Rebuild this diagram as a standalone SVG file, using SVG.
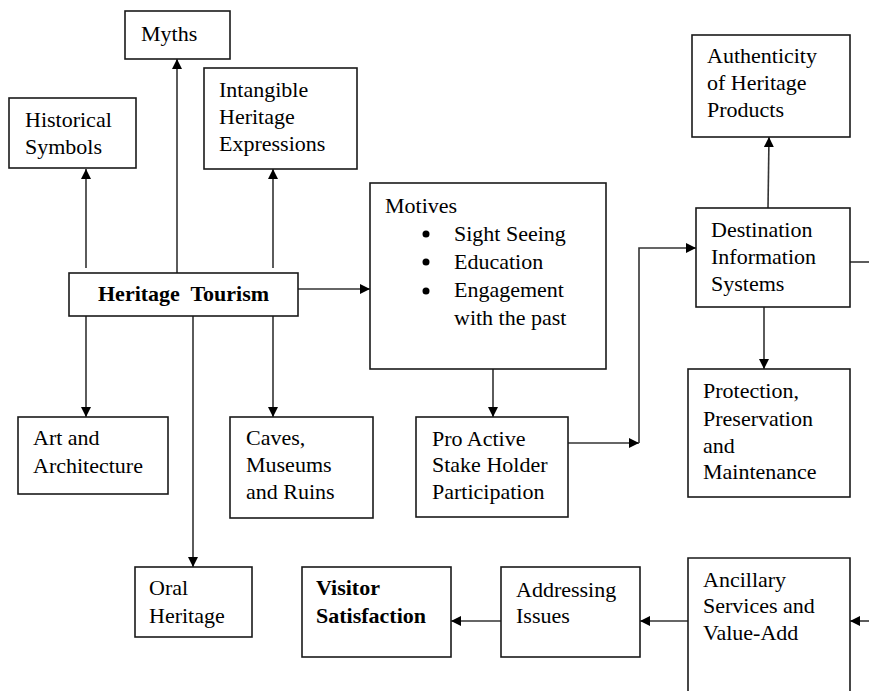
<svg xmlns="http://www.w3.org/2000/svg" width="869" height="691" viewBox="0 0 869 691" font-family="'Liberation Serif', serif">
<style>
.box{fill:#fff;stroke:#1a1a1a;stroke-width:1.6}
text{font-family:'Liberation Serif','DejaVu Serif',serif;font-size:22px;fill:#000}
.b{font-weight:bold}
.c{fill:none;stroke:#333;stroke-width:1.6}
</style>
<defs>
<marker id="ah" viewBox="0 0 10 10" refX="10" refY="5" markerWidth="10" markerHeight="10" markerUnits="userSpaceOnUse" orient="auto">
<path d="M0,0 L10,5 L0,10 Z" fill="#000"/>
</marker>
</defs>
<g id="connectors">
<line class="c" x1="86" y1="268" x2="86" y2="169" marker-end="url(#ah)"/>
<line class="c" x1="177" y1="273" x2="177" y2="59" marker-end="url(#ah)"/>
<line class="c" x1="273" y1="268" x2="273" y2="169" marker-end="url(#ah)"/>
<line class="c" x1="298" y1="289" x2="370" y2="289" marker-end="url(#ah)"/>
<line class="c" x1="86" y1="316" x2="86" y2="417" marker-end="url(#ah)"/>
<line class="c" x1="193" y1="316" x2="193" y2="567" marker-end="url(#ah)"/>
<line class="c" x1="273" y1="316" x2="273" y2="417" marker-end="url(#ah)"/>
<line class="c" x1="493" y1="369" x2="493" y2="417" marker-end="url(#ah)"/>
<line class="c" x1="568" y1="443" x2="639" y2="443" marker-end="url(#ah)"/>
<polyline class="c" points="639,443 639,248 696,248" marker-end="url(#ah)"/>
<line class="c" x1="768" y1="208" x2="769" y2="137" marker-end="url(#ah)"/>
<line class="c" x1="764" y1="307" x2="764" y2="369" marker-end="url(#ah)"/>
<line class="c" x1="850" y1="262" x2="869" y2="262"/>
<line class="c" x1="869" y1="621" x2="850" y2="621" marker-end="url(#ah)"/>
<line class="c" x1="688" y1="621" x2="640" y2="621" marker-end="url(#ah)"/>
<line class="c" x1="501" y1="621" x2="451" y2="621" marker-end="url(#ah)"/>
</g>
<g id="myths"><rect class="box" x="125" y="11" width="105" height="48"/><text x="141" y="41">Myths</text></g>
<g id="historical"><rect class="box" x="9" y="98" width="127" height="70"/><text x="25" y="127">Historical</text><text x="25" y="154">Symbols</text></g>
<g id="intangible"><rect class="box" x="204" y="68" width="153" height="101"/><text x="219" y="97">Intangible</text><text x="219" y="124">Heritage</text><text x="219" y="151">Expressions</text></g>
<g id="heritage-tourism"><rect class="box" x="69" y="273" width="229" height="43"/><text class="b" x="98" y="301" xml:space="preserve">Heritage  Tourism</text></g>
<g id="motives"><rect class="box" x="370" y="183" width="236" height="186"/>
<text x="385" y="213">Motives</text>
<circle cx="426" cy="234" r="3.5" fill="#000"/><text x="454" y="241">Sight Seeing</text>
<circle cx="426" cy="262" r="3.5" fill="#000"/><text x="454" y="269">Education</text>
<circle cx="426" cy="291" r="3.5" fill="#000"/><text x="454" y="297">Engagement</text>
<text x="454" y="325">with the past</text></g>
<g id="art"><rect class="box" x="18" y="417" width="150" height="77"/><text x="33" y="445">Art and</text><text x="33" y="473">Architecture</text></g>
<g id="caves"><rect class="box" x="230" y="417" width="143" height="101"/><text x="246" y="445">Caves,</text><text x="246" y="472">Museums</text><text x="246" y="499">and Ruins</text></g>
<g id="proactive"><rect class="box" x="416" y="417" width="152" height="100"/><text x="432" y="446">Pro Active</text><text x="432" y="472">Stake Holder</text><text x="432" y="499">Participation</text></g>
<g id="oral"><rect class="box" x="135" y="567" width="117" height="70"/><text x="149" y="595">Oral</text><text x="149" y="623">Heritage</text></g>
<g id="visitor"><rect class="box" x="302" y="567" width="149" height="90"/><text class="b" x="316" y="595">Visitor</text><text class="b" x="316" y="623">Satisfaction</text></g>
<g id="addressing"><rect class="box" x="501" y="567" width="139" height="90"/><text x="516" y="597">Addressing</text><text x="516" y="623">Issues</text></g>
<g id="ancillary"><path class="box" d="M688,691 L688,558 L850,558 L850,691"/><text x="703" y="587">Ancillary</text><text x="703" y="613">Services and</text><text x="703" y="640">Value-Add</text></g>
<g id="authenticity"><rect class="box" x="692" y="35" width="158" height="102"/><text x="707" y="63">Authenticity</text><text x="707" y="90">of Heritage</text><text x="707" y="117">Products</text></g>
<g id="destination"><rect class="box" x="696" y="208" width="154" height="99"/><text x="711" y="237">Destination</text><text x="711" y="264">Information</text><text x="711" y="291">Systems</text></g>
<g id="protection"><rect class="box" x="688" y="369" width="162" height="128"/><text x="703" y="398">Protection,</text><text x="703" y="426">Preservation</text><text x="703" y="453">and</text><text x="703" y="479">Maintenance</text></g>
</svg>
